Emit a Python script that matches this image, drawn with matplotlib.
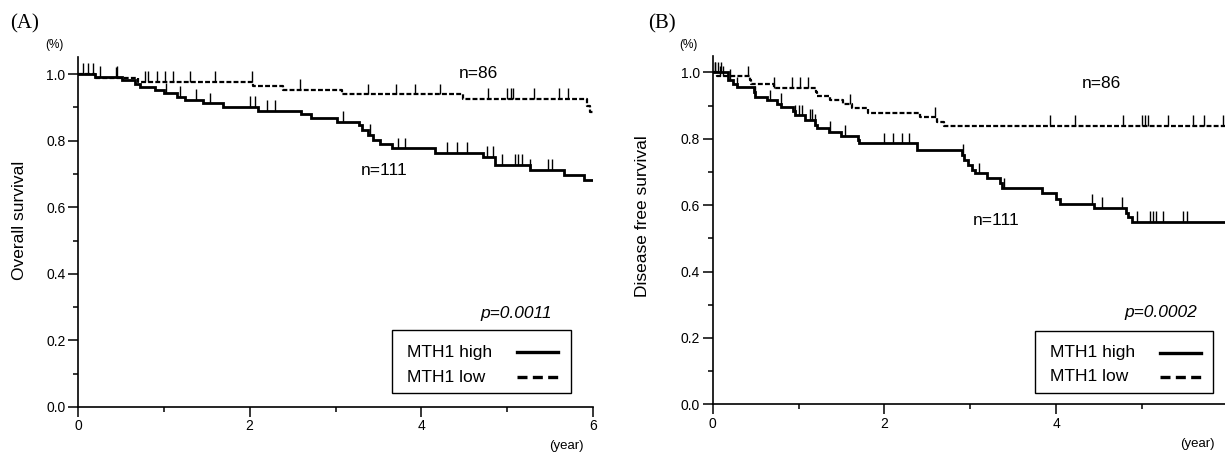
import numpy as np
import matplotlib
matplotlib.use("Agg")
import matplotlib.pyplot as plt
from matplotlib.lines import Line2D
from matplotlib.patches import Rectangle
from matplotlib.ticker import MultipleLocator

plt.rcParams['font.family'] = ['Liberation Sans', 'DejaVu Sans']

# ---------------- data ----------------
# Panel A: overall survival
A_high_t = [0, 0.20, 0.51, 0.66, 0.72, 0.90, 1.00, 1.15, 1.25, 1.46, 1.69, 2.10, 2.60, 2.72,
            3.02, 3.27, 3.31, 3.38, 3.44, 3.52, 3.66, 4.16, 4.72, 4.86, 5.27, 5.66, 5.89]
A_high_s = [1.000, 0.991, 0.981, 0.971, 0.962, 0.952, 0.942, 0.932, 0.922, 0.912, 0.901, 0.890,
            0.879, 0.867, 0.857, 0.847, 0.832, 0.817, 0.802, 0.790, 0.777, 0.763, 0.752, 0.727,
            0.712, 0.697, 0.683]
A_high_cens = [0.12, 0.26, 0.45, 1.03, 1.19, 1.38, 1.54, 2.00, 2.06, 2.20, 2.30, 3.09, 3.40,
               3.73, 3.81, 4.30, 4.41, 4.53, 4.76, 4.84, 4.94, 5.09, 5.13, 5.17, 5.27, 5.48, 5.52]

A_low_t = [0, 0.20, 0.70, 2.04, 2.39, 3.07, 4.49, 5.93, 5.97]
A_low_s = [1.000, 0.988, 0.977, 0.965, 0.953, 0.939, 0.925, 0.905, 0.887]
A_low_cens = [0.06, 0.18, 0.44, 0.78, 0.82, 0.92, 1.01, 1.11, 1.31, 1.60, 2.03, 2.59, 3.38,
              3.71, 3.93, 4.22, 4.78, 5.00, 5.04, 5.07, 5.31, 5.60, 5.71]

# Panel B: disease free survival
B_high_t = [0, 0.18, 0.24, 0.28, 0.48, 0.49, 0.63, 0.75, 0.80, 0.94, 0.96, 1.08, 1.19, 1.21,
            1.35, 1.50, 1.69, 1.71, 2.38, 2.90, 2.93, 2.97, 3.02, 3.06, 3.19, 3.35, 3.37, 3.84,
            4.00, 4.05, 4.44, 4.81, 4.84, 4.88]
B_high_s = [1.000, 0.978, 0.966, 0.955, 0.941, 0.927, 0.916, 0.906, 0.896, 0.883, 0.871, 0.856,
            0.841, 0.831, 0.821, 0.808, 0.797, 0.786, 0.766, 0.751, 0.736, 0.721, 0.706, 0.696,
            0.681, 0.666, 0.651, 0.637, 0.617, 0.602, 0.592, 0.577, 0.563, 0.550]
B_high_cens = [0.03, 0.06, 0.10, 0.20, 0.28, 0.49, 0.67, 0.79, 0.96, 1.00, 1.04, 1.13, 1.16,
               1.19, 1.37, 1.54, 1.99, 2.10, 2.20, 2.29, 2.92, 3.10, 3.39, 4.42, 4.53, 4.77,
               4.94, 5.10, 5.13, 5.16, 5.25, 5.48, 5.53]

B_low_t = [0, 0.05, 0.43, 0.45, 0.71, 1.20, 1.22, 1.37, 1.52, 1.62, 1.81, 2.42, 2.61, 2.69]
B_low_s = [1.000, 0.988, 0.976, 0.965, 0.953, 0.940, 0.928, 0.916, 0.904, 0.891, 0.878, 0.864,
           0.851, 0.838]
B_low_cens = [0.03, 0.08, 0.12, 0.41, 0.71, 0.92, 1.02, 1.11, 1.60, 2.59, 3.93, 4.22, 4.78,
              5.00, 5.04, 5.07, 5.31, 5.60, 5.72, 5.94]

x_ticks = [0, 2, 4, 6]
y_ticks = [0.0, 0.2, 0.4, 0.6, 0.8, 1.0]
legend_labels = ['MTH1 high', 'MTH1 low']

T_END = 6.0
W, H = 1225, 453

fig = plt.figure(figsize=(W / 100, H / 100), dpi=100)

LOW_STYLE = dict(color='black', lw=1.6, linestyle=(0, (2.2, 1.0)))
HIGH_STYLE = dict(color='black', lw=2.0, linestyle='-')


def km(ax, t, s, cens, style):
    t = np.asarray(t, float)
    s = np.asarray(s, float)
    ax.step(np.append(t, T_END), np.append(s, s[-1]), where='post', **style,
            solid_joinstyle='miter')
    c = np.asarray(cens, float)
    idx = np.searchsorted(t, c, side='right') - 1
    yc = s[idx]
    ax.vlines(c, yc, yc + 0.032, color='black', lw=1.0)


def setup(ax, ylabel, ylab_xy):
    ax.set_xlim(0, 6)
    ax.set_ylim(0, 1.05)
    for sp in ['top', 'right']:
        ax.spines[sp].set_visible(False)
    for sp in ['left', 'bottom']:
        ax.spines[sp].set_linewidth(1.2)
    ax.set_xticks(x_ticks)
    ax.set_xticklabels([str(v) for v in x_ticks])
    ax.set_yticks(y_ticks)
    ax.set_yticklabels([f"{v:.1f}" for v in y_ticks])
    ax.xaxis.set_minor_locator(MultipleLocator(1))
    ax.yaxis.set_minor_locator(MultipleLocator(0.1))
    ax.tick_params(which='major', direction='out', length=7, width=1.1, labelsize=10, pad=2)
    ax.tick_params(which='minor', direction='out', length=3.5, width=1.1)
    ax.set_ylabel(ylabel, fontsize=12.5)
    ax.yaxis.set_label_coords(*ylab_xy)
    ax.patch.set_visible(False)


def fx(px):
    return px / W


def fy(py):
    return 1 - py / H


def legend_box(x0, x1, y0, y1, text_x, line_x0, line_x1, rows):
    fig.add_artist(Rectangle((fx(x0), fy(y1)), fx(x1) - fx(x0), fy(y0) - fy(y1),
                             transform=fig.transFigure, fill=False, edgecolor='black',
                             lw=1.0))
    styles = [dict(lw=2.4, linestyle='-'), dict(lw=2.4, linestyle=(0, (3.0, 1.6)))]
    for lab, ry, st in zip(legend_labels, rows, styles):
        fig.text(fx(text_x), fy(ry), lab, fontsize=12.5, ha='left', va='center')
        fig.add_artist(Line2D([fx(line_x0), fx(line_x1)], [fy(ry), fy(ry)],
                              transform=fig.transFigure, color='black', **st))


# ---------------- Panel A ----------------
axA = fig.add_axes([78 / W, 46 / H, 515 / W, 349.65 / H])
km(axA, A_high_t, A_high_s, A_high_cens, HIGH_STYLE)
km(axA, A_low_t, A_low_s, A_low_cens, LOW_STYLE)
setup(axA, 'Overall survival', (-0.099, 0.535))
axA.text(4.66, 1.003, 'n=86', fontsize=12.5, ha='center', va='center')
axA.text(3.57, 0.709, 'n=111', fontsize=12.5, ha='center', va='center')
axA.text(5.52, 0.282, 'p=0.0011', fontsize=12.5, ha='right', va='center', fontstyle='italic')
legend_box(392, 571, 330, 393, 407, 517, 558, [352, 377])

# ---------------- Panel B ----------------
axB = fig.add_axes([712.7 / W, 48.7 / H, 515 / W, 348.6 / H])
km(axB, B_high_t, B_high_s, B_high_cens, HIGH_STYLE)
km(axB, B_low_t, B_low_s, B_low_cens, LOW_STYLE)
setup(axB, 'Disease free survival', (-0.122, 0.54))
axB.text(4.53, 0.965, 'n=86', fontsize=12.5, ha='center', va='center')
axB.text(3.30, 0.555, 'n=111', fontsize=12.5, ha='center', va='center')
axB.text(5.64, 0.275, 'p=0.0002', fontsize=12.5, ha='right', va='center', fontstyle='italic')
legend_box(1035, 1213, 331, 393, 1050, 1160, 1201, [352.5, 376.5])

# ---------------- annotations ----------------
def ftext(px, py, s, **kw):
    fig.text(fx(px), fy(py), s, **kw)

ftext(25, 24, '(A)', fontsize=15, family='Liberation Serif', ha='center', va='center')
ftext(662, 24, '(B)', fontsize=15, family='Liberation Serif', ha='center', va='center')
ftext(54, 45, '(%)', fontsize=8.5, ha='center', va='center')
ftext(688, 45, '(%)', fontsize=8.5, ha='center', va='center')
ftext(566, 446, '(year)', fontsize=9.5, ha='center', va='center')
ftext(1197, 444, '(year)', fontsize=9.5, ha='center', va='center')

fig.savefig('out.png', dpi=100, facecolor='white')
